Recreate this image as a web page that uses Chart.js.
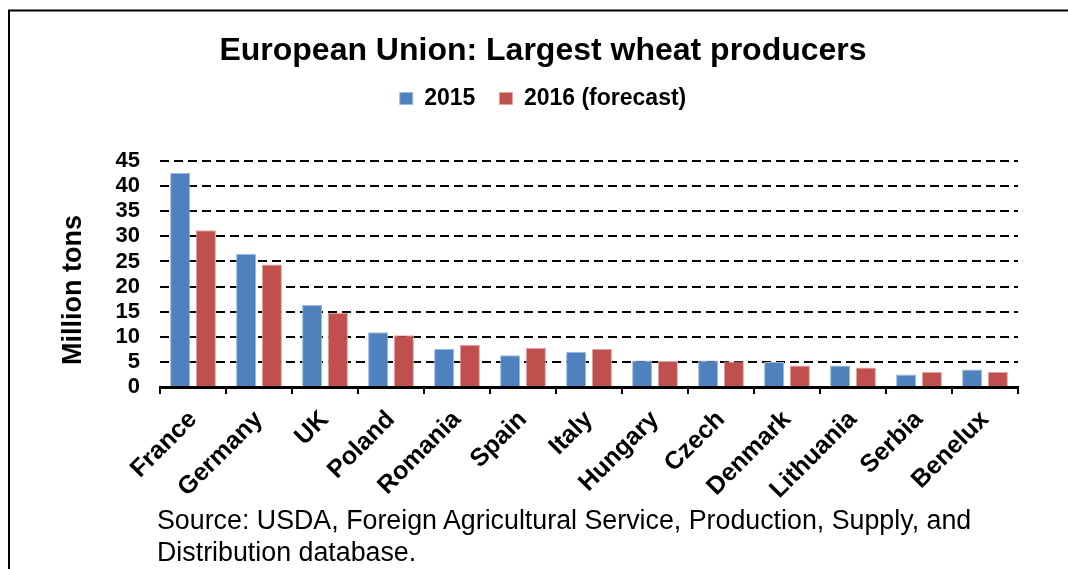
<!DOCTYPE html>
<html>
<head>
<meta charset="utf-8">
<script src="https://cdn.jsdelivr.net/npm/chart.js@4/dist/chart.umd.min.js"></script>
<style>
  html, body { margin: 0; padding: 0; background: #fff; }
  #wrap { position: relative; width: 1068px; height: 569px; overflow: hidden; }
  canvas { display: block; }
  #source {
    position: absolute; left: 157px; top: 504px;
    font-family: "Liberation Sans", Arial, sans-serif; font-size: 26.8px; line-height: 32px;
    color: #000; white-space: nowrap;
  }
  #ytitle {
    position: absolute; left: -28px; top: 274px; width: 200px; height: 32px;
    line-height: 32px; text-align: center; transform: rotate(-90deg);
    font-family: "Liberation Sans", Arial, sans-serif; font-size: 27px; font-weight: bold;
    color: #000; white-space: nowrap;
  }
</style>
</head>
<body>
<div id="wrap">
  <canvas id="c" width="1068" height="569"></canvas>
  <div id="ytitle"></div>
  <div id="source">Source: USDA, Foreign Agricultural Service, Production, Supply, and<br>Distribution database.</div>
</div>
<script>
const categories = ["France", "Germany", "UK", "Poland", "Romania", "Spain", "Italy",
                    "Hungary", "Czech", "Denmark", "Lithuania", "Serbia", "Benelux"];
const values2015 = [42.6, 26.5, 16.4, 10.9, 7.6, 6.3, 7.0, 5.3, 5.3, 5.0, 4.3, 2.5, 3.5];
const values2016 = [31.2, 24.4, 14.8, 10.3, 8.4, 7.8, 7.6, 5.2, 5.1, 4.3, 3.9, 3.0, 3.0];
const seriesLabels = ["2015", "2016 (forecast)"];
const yTicks = [0, 5, 10, 15, 20, 25, 30, 35, 40, 45];
const chartTitle = "European Union: Largest wheat producers";
const yTitle = "Million tons";

document.getElementById('ytitle').textContent = yTitle;

const FONT = "'Liberation Sans', Arial, sans-serif";

const framePlugin = {
  id: 'frame',
  beforeDraw(chart) {
    const ctx = chart.ctx;
    ctx.save();
    ctx.fillStyle = '#fff';
    ctx.fillRect(0, 0, chart.width, chart.height);
    ctx.strokeStyle = '#000';
    ctx.lineWidth = 2;
    ctx.beginPath();
    ctx.moveTo(9, chart.height);
    ctx.lineTo(9, 10.5);
    ctx.lineTo(chart.width, 10.5);
    ctx.stroke();
    ctx.restore();
  }
};

// empty layout box placed between the legend and the plot area
const spacerPlugin = {
  id: 'spacer',
  start(chart) {
    const box = {
      id: 'spacerBox', position: 'top', weight: 0, fullSize: true,
      options: { stack: undefined, stackWeight: 1 },
      top: 0, left: 0, right: 0, bottom: 0, width: 0, height: 0,
      isHorizontal() { return true; },
      update(maxWidth) { this.width = maxWidth; this.height = 41; },
      configure() {}, draw() {}
    };
    Chart.layouts.addBox(chart, box);
  }
};

new Chart(document.getElementById('c'), {
  type: 'bar',
  data: {
    labels: categories,
    datasets: [
      { label: seriesLabels[0], data: values2015, backgroundColor: '#4F81BD',
        borderColor: '#9DB9DB', borderWidth: 1,
        barPercentage: 0.78, categoryPercentage: 0.78 },
      { label: seriesLabels[1], data: values2016, backgroundColor: '#C0504D',
        borderColor: '#E0A3A1', borderWidth: 1,
        barPercentage: 0.78, categoryPercentage: 0.78 }
    ]
  },
  options: {
    responsive: false,
    animation: false,
    devicePixelRatio: 1,
    layout: { padding: { left: 18, right: 0, top: 0, bottom: 0 } },
    plugins: {
      title: {
        display: true, text: chartTitle, color: '#000',
        font: { family: FONT, size: 32, weight: 'bold' },
        padding: { top: 32, bottom: -7.4 }
      },
      legend: {
        display: true,
        labels: {
          color: '#000', boxWidth: 13, boxHeight: 12, padding: 24,
          font: { family: FONT, size: 23, weight: 'bold' }
        }
      },
      tooltip: { enabled: false }
    },
    scales: {
      x: {
        grid: { display: true, drawOnChartArea: false, drawTicks: true, tickLength: 7,
                lineWidth: 2, color: '#000', offset: true },
        border: { display: true, color: '#000', width: 3 },
        ticks: {
          color: '#000', autoSkip: false, minRotation: 45, maxRotation: 45, padding: 11,
          font: { family: FONT, size: 25, weight: 'bold' }
        },
        afterFit(scale) {
          scale.height = 182;
          scale.paddingLeft = 0;
          scale.paddingRight = 50;
        }
      },
      y: {
        min: 0, max: 45,
        afterBuildTicks(scale) { scale.ticks = yTicks.map(v => ({ value: v })); },
        grid: { display: true, drawTicks: false, lineWidth: 2, color: '#000' },
        border: { display: false, dash: [9, 5] },
        ticks: {
          color: '#000', padding: 20, autoSkip: false,
          font: { family: FONT, size: 22, weight: 'bold' }
        },
        title: { display: false },
        afterFit(scale) {
          scale.width = 142;
          scale.paddingTop = 160;
          scale.paddingBottom = 0;
        }
      }
    }
  },
  plugins: [framePlugin, spacerPlugin]
});
</script>
</body>
</html>
